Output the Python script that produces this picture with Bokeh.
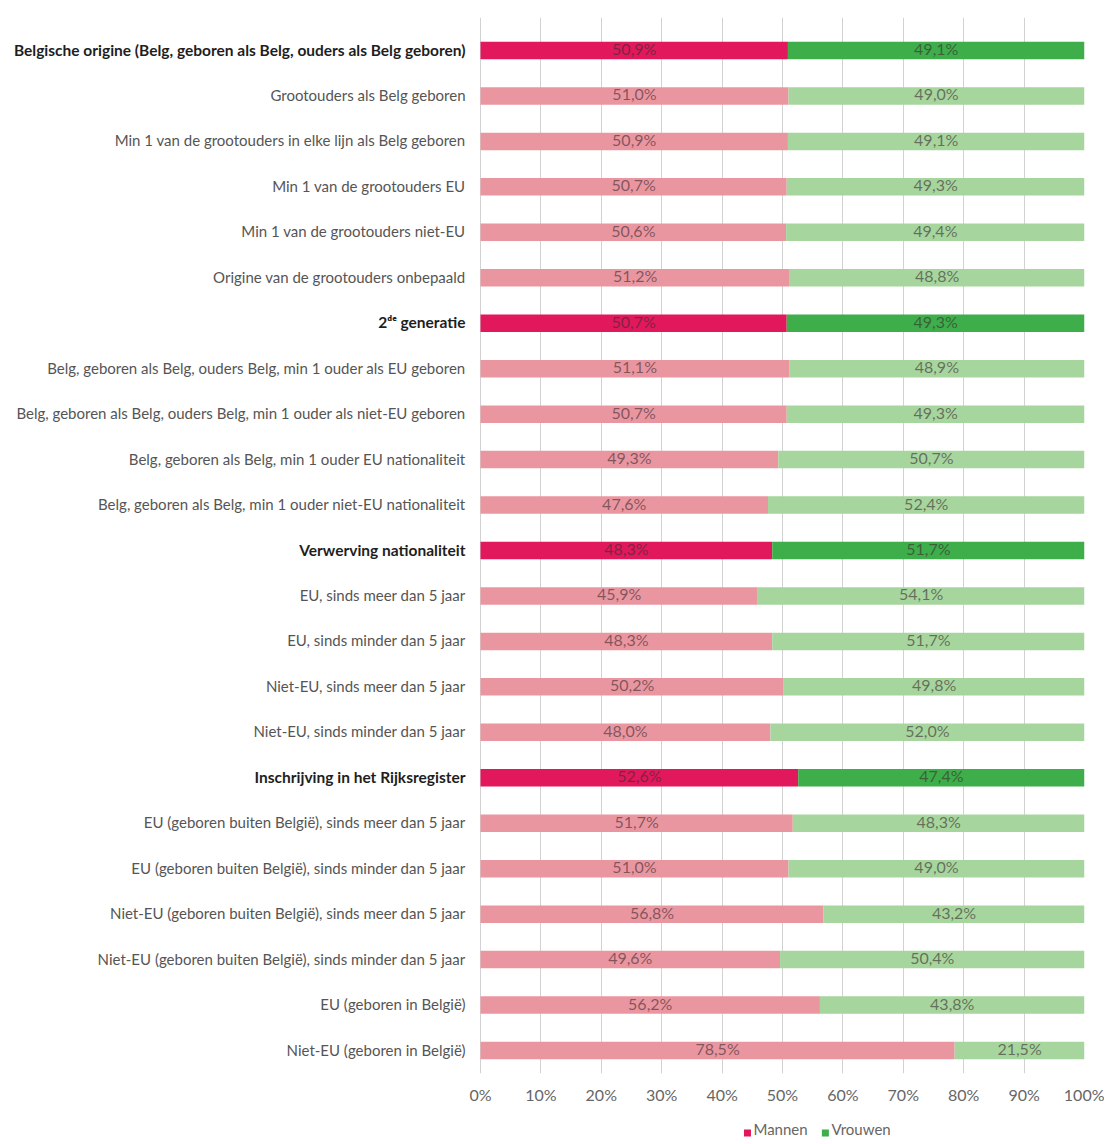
from bokeh.plotting import figure
from bokeh.layouts import column
from bokeh.models import ColumnDataSource, Range1d, FixedTicker, CustomJSTickFormatter
from bokeh.core.properties import value
from bokeh.embed import file_html
from bokeh.resources import INLINE

categories = [
    "Belgische origine (Belg, geboren als Belg, ouders als Belg geboren)",
    "Grootouders als Belg geboren",
    "Min 1 van de grootouders in elke lijn als Belg geboren",
    "Min 1 van de grootouders EU",
    "Min 1 van de grootouders niet-EU",
    "Origine van de grootouders onbepaald",
    "2\u1d48\u1d49 generatie",
    "Belg, geboren als Belg, ouders Belg, min 1 ouder als EU geboren",
    "Belg, geboren als Belg, ouders Belg, min 1 ouder als niet-EU geboren",
    "Belg, geboren als Belg, min 1 ouder EU nationaliteit",
    "Belg, geboren als Belg, min 1 ouder niet-EU nationaliteit",
    "Verwerving nationaliteit",
    "EU, sinds meer dan 5 jaar",
    "EU, sinds minder dan 5 jaar",
    "Niet-EU, sinds meer dan 5 jaar",
    "Niet-EU, sinds minder dan 5 jaar",
    "Inschrijving in het Rijksregister",
    "EU (geboren buiten België), sinds meer dan 5 jaar",
    "EU (geboren buiten België), sinds minder dan 5 jaar",
    "Niet-EU (geboren buiten België), sinds meer dan 5 jaar",
    "Niet-EU (geboren buiten België), sinds minder dan 5 jaar",
    "EU (geboren in België)",
    "Niet-EU (geboren in België)",
]
is_group = [True, False, False, False, False, False, True, False, False, False, False,
            True, False, False, False, False, True, False, False, False, False, False, False]
mannen = [50.9, 51.0, 50.9, 50.7, 50.6, 51.2, 50.7, 51.1, 50.7, 49.3, 47.6,
          48.3, 45.9, 48.3, 50.2, 48.0, 52.6, 51.7, 51.0, 56.8, 49.6, 56.2, 78.5]
vrouwen = [49.1, 49.0, 49.1, 49.3, 49.4, 48.8, 49.3, 48.9, 49.3, 50.7, 52.4,
           51.7, 54.1, 51.7, 49.8, 52.0, 47.4, 48.3, 49.0, 43.2, 50.4, 43.8, 21.5]
x_ticks = [0, 10, 20, 30, 40, 50, 60, 70, 80, 90, 100]
legend_labels = ["Mannen", "Vrouwen"]
legend_colors = ["#E2185C", "#3DAE4A"]

def fmt(v):
    return ("%.1f" % v).replace(".", ",") + "%"

ypos = list(range(len(categories)))
m_col = ["#E2185C" if g else "#EA96A0" for g in is_group]
f_col = ["#3DAE4A" if g else "#A6D59E" for g in is_group]

src = ColumnDataSource(dict(
    y=ypos, cat=categories, m=mannen, f=vrouwen,
    left0=[0] * len(ypos), total=[a + b for a, b in zip(mannen, vrouwen)],
    mc=m_col, fc=f_col,
    mx=[a / 2 for a in mannen], fx=[a + b / 2 for a, b in zip(mannen, vrouwen)],
    mt=[fmt(a) for a in mannen], ft=[fmt(b) for b in vrouwen],
))

W = 1104
H1 = 1118
X0 = -79.47
p = figure(width=W, height=H1, output_backend="svg", toolbar_location=None,
           x_range=Range1d(X0, 100), y_range=Range1d(22.506, -0.726),
           min_border_left=0, min_border_right=20, min_border_top=17, min_border_bottom=45)
p.outline_line_color = None
p.background_fill_color = "white"
p.border_fill_color = "white"

p.yaxis.visible = False
p.ygrid.visible = False
p.xaxis.ticker = FixedTicker(ticks=x_ticks)
p.xaxis.formatter = CustomJSTickFormatter(code="return tick + '%';")
p.xaxis.axis_line_color = None
p.xaxis.major_tick_line_color = None
p.xaxis.minor_tick_line_color = None
p.xaxis.major_label_text_font = "Lato"
p.xaxis.major_label_text_font_size = "16px"
p.xaxis.major_label_text_color = "#666666"
p.xaxis.major_label_standoff = 5
p.xgrid.ticker = FixedTicker(ticks=x_ticks)
p.xgrid.grid_line_color = "#d2d2d2"
p.xgrid.grid_line_width = 1

h = 0.385
p.hbar(y="y", left="left0", right="m", height=h, fill_color="mc", line_color=None, source=src)
p.hbar(y="y", left="m", right="total", height=h, fill_color="fc", line_color=None, source=src)

txt_style = dict(text_font=value("Lato"), text_font_size="16px", text_align="center",
                 text_baseline="middle", text_color="#3a2a2e", text_alpha=0.6, y_offset=-2)
p.text(x="mx", y="y", text="mt", source=src, **txt_style)
p.text(x="fx", y="y", text="ft", source=src, **txt_style)

norm_idx = [i for i, g in enumerate(is_group) if not g]
grp_idx = [i for i, g in enumerate(is_group) if g]
p.text(x=[0] * len(norm_idx), y=[ypos[i] for i in norm_idx], text=[categories[i] for i in norm_idx],
       x_offset=-15, y_offset=-1, text_align="right", text_baseline="middle", text_font=value("Lato"),
       text_font_size="15px", text_color="#555555")
p.text(x=[0] * len(grp_idx), y=[ypos[i] for i in grp_idx], text=[categories[i] for i in grp_idx],
       x_offset=-15, y_offset=-1, text_align="right", text_baseline="middle", text_font=value("Lato"),
       text_font_size="15.5px", text_font_style="bold", text_color="#1e1e1e")

# legend strip
H2 = 24
lg = figure(width=W, height=H2, output_backend="svg", toolbar_location=None,
            x_range=Range1d(X0, 100), y_range=Range1d(0, 1),
            min_border_left=0, min_border_right=20, min_border_top=0, min_border_bottom=0)
lg.axis.visible = False
lg.grid.visible = False
lg.outline_line_color = None
leg_x = [44.2, 57.1]
lg.scatter(x=leg_x, y=[0.4, 0.4], marker="square", size=7, fill_color=legend_colors, line_color=None)
lg.text(x=leg_x, y=[0.55, 0.55], text=legend_labels, x_offset=6, text_align="left", text_baseline="middle",
        text_font=value("Lato"), text_font_size="15px", text_color="#666666")

layout = column(p, lg, spacing=0)
open("out.html", "w").write(file_html(layout, INLINE))
